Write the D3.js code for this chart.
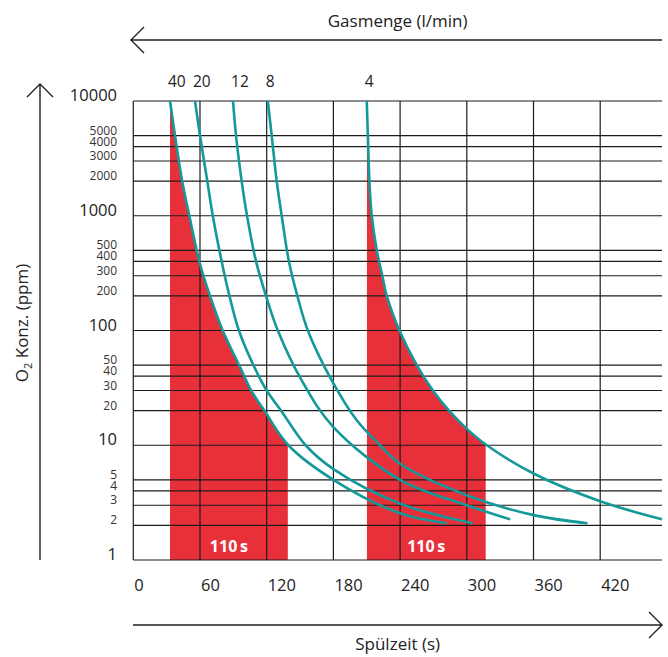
<!DOCTYPE html>
<html>
<head>
<meta charset="utf-8">
<script src="https://cdn.jsdelivr.net/npm/d3@7"></script>
<style>
  body { margin: 0; background: #fff; }
  text { font-family: "Open Sans", "Noto Sans", sans-serif; fill: #222; }
</style>
</head>
<body>
<div id="chart"></div>
<script>
// Spülzeit (s) vs O2 concentration (ppm), one curve per gas flow (l/min)
const flowRates = [40, 20, 12, 8, 4];

// [seconds, ppm]
const curve40 = [[33, 10000], [37.5, 5000], [44, 2000], [50.4, 1000], [60, 380], [69, 200],
  [80.4, 100], [96, 48], [106, 30], [118, 20], [139.5, 10], [180, 5], [240, 2.55], [282, 2.09]];
const curve20 = [[55.5, 10000], [60, 5000], [66.6, 2000], [71.5, 1000], [79.5, 400], [86.5, 200],
  [95, 100], [108, 50], [120, 30], [133, 20], [155, 10], [180, 6.2], [240, 3.1], [305, 2.09]];
const curve12 = [[89.7, 10000], [92.4, 5000], [97.5, 2000], [102.3, 1000], [110.4, 400], [119.4, 200],
  [130, 100], [151.5, 36.7], [180, 14.4], [240, 5.0], [300, 3.0], [339, 2.26]];
const curve8 = [[121, 10000], [124.5, 5000], [129, 2000], [133.5, 1000], [140, 400], [147.6, 200],
  [157, 100], [178.5, 36.7], [201, 16.5], [222, 10], [240, 6.9], [300, 3.67], [360, 2.46], [408.6, 2.09]];
const curve4 = [[210, 10000], [211, 5000], [212.4, 2000], [214.5, 1000], [219, 500], [224, 300],
  [228, 200], [239.4, 100], [255, 50], [269.5, 30], [284, 20], [300, 13.9], [318, 10],
  [360, 5.67], [420, 3.25], [475.6, 2.26]];
const curves = [curve40, curve20, curve12, curve8, curve4];

// shaded purge windows: [start s, end s, index of curve]
const purgeWindows = [[33, 139, 0], [210, 317, 4]];
const purgeLabels = ["110\u2009s", "110\u2009s"];

const xTicks = [0, 60, 120, 180, 240, 300, 360, 420];
const yMajorTicks = [1, 10, 100, 1000, 10000];
const yMinorTicks = [2, 3, 4, 5, 20, 30, 40, 50, 200, 300, 400, 500, 2000, 3000, 4000, 5000];

const svgWidth = 668;
const svgHeight = 657;
const plot = { left: 133.3, right: 662, top: 101, bottom: 560 };

const red = "#e8303a";
const teal = "#14999a";
const gridColor = "#1c1c1c";

const svg = d3.select("#chart")
  .append("svg")
  .attr("width", svgWidth)
  .attr("height", svgHeight);

const x = d3.scaleLinear().domain([0, 480]).range([plot.left, plot.left + 480 * (200 - 133.3) / 60]);
const y = d3.scaleLog().domain([1, 10000]).range([plot.bottom, plot.top]);

const smooth = d3.curveCatmullRom.alpha(0.5);

// red areas under the curves, clipped to each window
const area = d3.area()
  .x(d => x(d[0]))
  .y0(plot.bottom)
  .y1(d => y(d[1]))
  .curve(smooth);

purgeWindows.forEach((w, i) => {
  const id = "clip" + i;
  svg.append("clipPath").attr("id", id)
    .append("rect")
    .attr("x", x(w[0]))
    .attr("y", plot.top)
    .attr("width", x(w[1]) - x(w[0]))
    .attr("height", plot.bottom - plot.top);
  svg.append("path")
    .datum(curves[w[2]])
    .attr("clip-path", `url(#${id})`)
    .attr("fill", red)
    .attr("d", area);
});

// grid
const grid = svg.append("g").attr("stroke", gridColor).attr("stroke-width", 1.2);
grid.selectAll(".hline")
  .data(yMajorTicks.concat(yMinorTicks))
  .join("line")
  .attr("x1", plot.left)
  .attr("x2", plot.right)
  .attr("y1", d => y(d))
  .attr("y2", d => y(d));
grid.selectAll(".vline")
  .data(xTicks)
  .join("line")
  .attr("x1", d => x(d))
  .attr("x2", d => x(d))
  .attr("y1", plot.top)
  .attr("y2", plot.bottom);

// curves
const line = d3.line()
  .x(d => x(d[0]))
  .y(d => y(d[1]))
  .curve(smooth);

svg.append("g")
  .selectAll("path")
  .data(curves)
  .join("path")
  .attr("fill", "none")
  .attr("stroke", teal)
  .attr("stroke-width", 2.6)
  .attr("d", line);

// flow labels above curve starts
svg.append("g")
  .selectAll("text")
  .data(flowRates)
  .join("text")
  .attr("x", (d, i) => x(curves[i][0][0]) - 2)
  .attr("y", 87)
  .attr("font-size", 15.5)
  .text(d => d);

// window labels
svg.append("g")
  .selectAll("text")
  .data(purgeWindows)
  .join("text")
  .attr("x", d => (x(d[0]) + x(d[1])) / 2)
  .attr("y", 552)
  .attr("text-anchor", "middle")
  .attr("font-size", 16)
  .attr("font-weight", "bold")
  .style("fill", "#fff")
  .text((d, i) => purgeLabels[i]);

// y tick labels
svg.append("g")
  .selectAll("text")
  .data(yMajorTicks)
  .join("text")
  .attr("x", 117)
  .attr("y", d => y(d))
  .attr("text-anchor", "end")
  .attr("font-size", 16.5)
  .text(d => d);

svg.append("g")
  .selectAll("text")
  .data(yMinorTicks)
  .join("text")
  .attr("x", 117)
  .attr("y", d => y(d) - 1)
  .attr("text-anchor", "end")
  .attr("font-size", 12)
  .style("fill", "#333")
  .text(d => d);

// x tick labels
svg.append("g")
  .selectAll("text")
  .data(xTicks)
  .join("text")
  .attr("x", d => x(d) + 1)
  .attr("y", 591)
  .attr("font-size", 16.5)
  .text(d => d);

// axis arrows
const arrows = svg.append("g")
  .attr("fill", "none")
  .attr("stroke", "#222")
  .attr("stroke-width", 1.4);
arrows.append("path").attr("d", "M662,40H131M144,27L131,40L144,53");
arrows.append("path").attr("d", "M133,625H662M649,612L662,625L649,638");
arrows.append("path").attr("d", "M40,560V84M27,97L40,84L53,97");

// axis titles
svg.append("text")
  .attr("x", (plot.left + plot.right) / 2)
  .attr("y", 27)
  .attr("text-anchor", "middle")
  .attr("font-size", 17)
  .text("Gasmenge (l/min)");

svg.append("text")
  .attr("x", (plot.left + plot.right) / 2)
  .attr("y", 650)
  .attr("text-anchor", "middle")
  .attr("font-size", 17)
  .text("Spülzeit (s)");

const yTitle = svg.append("text")
  .attr("transform", "translate(28, 323) rotate(-90)")
  .attr("text-anchor", "middle")
  .attr("font-size", 17);
yTitle.append("tspan").text("O");
yTitle.append("tspan").attr("font-size", 11).attr("dy", 4).text("2");
yTitle.append("tspan").attr("dy", -4).text(" Konz. (ppm)");
</script>
</body>
</html>
